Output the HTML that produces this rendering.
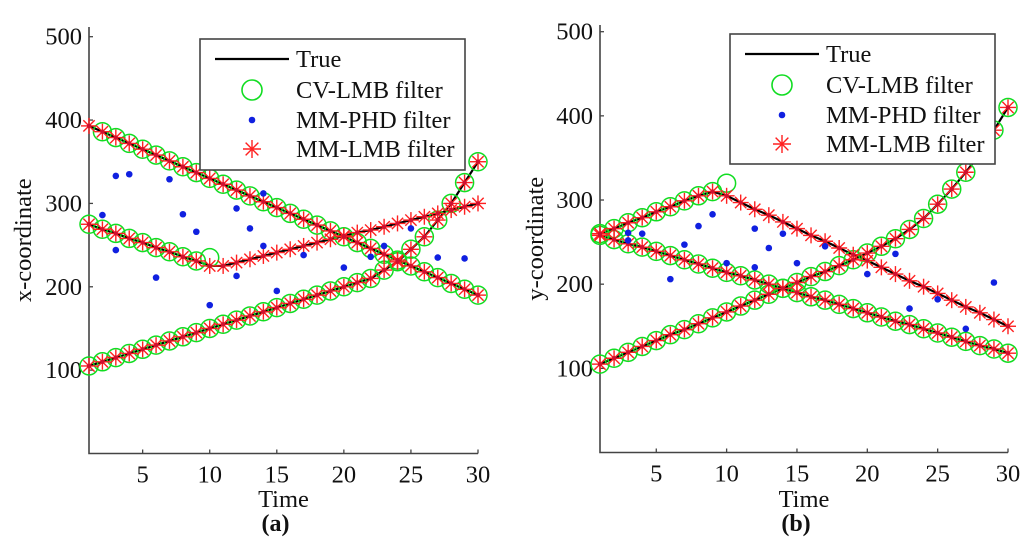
<!DOCTYPE html>
<html><head><meta charset="utf-8"><style>
html,body{margin:0;padding:0;background:#fff;}
svg{display:block;font-family:"Liberation Serif",serif;}
</style></head><body>
<svg id="fig" width="1024" height="542" viewBox="0 0 1024 542"></svg>
<script>
// ---- shared data ----
const times = Array.from({length:30},(_,i)=>i+1);
const xTicks = [5,10,15,20,25,30];
const yTicks = [100,200,300,400,500];
// panel (a) x-coordinate tracks
const aTrack1 = [393,386,379,372,365,358,351,344,337,330,323,316,309,302,295,288,281,274,267,260,253,246,239,232,225,218,211,204,197,190];
const aTrack2 = [275,269,264,258,253,247,242,236,231,225,225,229,233,237,241,245,249,253,257,261,265,268,272,276,280,284,288,292,296,300];
const aTrack3 = [105,110,115,120,125,130,135,140,145,150,155,160,165,170,175,180,185,190,195,200,205,210,220,230,245,260,280,300,325,350];
const aCvTrack2 = [275,269,264,258,253,247,242,236,231,235];
const aPhdT = [2,3,3,4,6,7,8,9,10,12,12,13,14,14,15,17,20,22,23,25,27,29];
const aPhdV = [286,333,244,335,211,329,287,266,178,294,213,270,312,249,195,238,223,236,249,270,235,234];
// panel (b) y-coordinate tracks
const bTrack1 = [260,266,273,279,286,292,299,305,310,305,297,289,282,274,266,258,251,243,235,228,220,212,204,197,189,181,173,166,158,150];
const bTrack2 = [258,253,248,244,239,234,229,224,219,214,210,205,200,195,190,185,181,176,171,166,161,156,152,147,142,137,132,127,123,118];
const bTrack3 = [105,112,119,126,133,140,146,153,160,167,174,181,188,195,202,209,215,222,229,237,245,254,265,278,295,313,333,355,383,410];
const bCvTrack1 = [260,266,273,279,286,292,299,305,310,320];
const bPhdT = [3,3,4,6,7,8,9,10,12,12,13,14,15,17,20,22,23,25,27,29];
const bPhdV = [261,252,260,206,247,269,283,225,266,220,243,260,225,245,212,236,171,182,147,202];

const NS="http://www.w3.org/2000/svg";
const svg=document.getElementById('fig');
function mk(tag,attrs,parent){const e=document.createElementNS(NS,tag);for(const k in attrs)e.setAttribute(k,attrs[k]);(parent||svg).appendChild(e);return e;}

function star(g,cx,cy,r){
  for(let k=0;k<4;k++){const a=k*Math.PI/4;
    const l=mk('line',{x1:cx-r*Math.cos(a),y1:cy-r*Math.sin(a),x2:cx+r*Math.cos(a),y2:cy+r*Math.sin(a),stroke:'#ff2020','stroke-width':1.4},g);
    
    }
}

function panel(P){
  const X=t=>P.x0+(t-1)*(P.x1-P.x0)/29;
  const Y=v=>P.yb-v*(P.yb-P.y500)/500;
  const g=mk('g',{});
  
  
  const ax=mk('path',{d:`M${P.x0},${P.ytop} L${P.x0},${P.yb} L${P.x1},${P.yb}`,fill:'none',stroke:'#444','stroke-width':1.6},g);
  
  
  xTicks.forEach(t=>{
    const tk=mk('line',{x1:X(t),y1:P.yb,x2:X(t),y2:P.yb-4,stroke:'#444','stroke-width':1.3},g);
    
    
    const tl=mk('text',{x:X(t),y:P.yb+29,'text-anchor':'middle','font-size':24.5,fill:'#111'},g);
    tl.textContent=t;
    
    
  });
  yTicks.forEach(v=>{
    const tk=mk('line',{x1:P.x0,y1:Y(v),x2:P.x0+4,y2:Y(v),stroke:'#444','stroke-width':1.3},g);
    
    
    const tl=mk('text',{x:P.x0-7,y:Y(v)+8,'text-anchor':'end','font-size':24.5,fill:'#111'},g);
    tl.textContent=v;
    
    
  });
  const xt=mk('text',{x:(P.x0+P.x1)/2,y:507,'text-anchor':'middle','font-size':24.5,fill:'#111'},g);
  xt.textContent='Time';
  
  
  const yt=mk('text',{x:0,y:0,'text-anchor':'middle','font-size':24.5,fill:'#111',transform:`translate(${P.ytx},${(P.ytop+P.yb)/2}) rotate(-90)`},g);
  yt.textContent=P.ylabel;
  
  
  const pl=mk('text',{x:(P.x0+P.x1)/2-8,y:531,'text-anchor':'middle','font-size':24,'font-weight':'bold',fill:'#111'},g);
  pl.textContent=P.tag;
  
  
  P.tracks.forEach((tr,i)=>{
    const d=tr.map((v,j)=>(j?'L':'M')+X(times[j])+','+Y(v)).join(' ');
    const p=mk('path',{d,fill:'none',stroke:'#000','stroke-width':2.2},g);
    
    
  });
  P.cv.forEach((tr,i)=>{tr.forEach((v,j)=>{
    if(P.skipCv && P.skipCv(i,j)) return;
    const c=mk('circle',{cx:X(times[j]),cy:Y(v),r:9,fill:'none',stroke:'#11dd22','stroke-width':1.5},g);
    
    
  });});
  P.tracks.forEach(tr=>tr.forEach((v,j)=>star(g,X(times[j]),Y(v),8)));
  P.tracks.forEach(tr=>tr.forEach((v,j)=>{
    const c=mk('circle',{cx:X(times[j]),cy:Y(v),r:2.2,fill:'#d01030'},g);
    
    
  }));
  P.phdT.forEach((t,k)=>{
    const c=mk('circle',{cx:X(t),cy:Y(P.phdV[k]),r:3.3,fill:'#1020e0'},g);
    
    
  });
  const L=P.leg;
  const lg=mk('g',{},g);
  
  
  mk('rect',{x:L.x,y:L.y,width:L.w,height:L.h,fill:'#fff',stroke:'#444','stroke-width':1.6},lg);
  const rows=[20,51,81,110];
  const labels=['True','CV-LMB filter','MM-PHD filter','MM-LMB filter'];
  const mx=L.x+52;
  mk('line',{x1:L.x+15,y1:L.y+rows[0],x2:L.x+89,y2:L.y+rows[0],stroke:'#000','stroke-width':2.2},lg);
  mk('circle',{cx:mx,cy:L.y+rows[1],r:10,fill:'none',stroke:'#11dd22','stroke-width':1.6},lg);
  mk('circle',{cx:mx,cy:L.y+rows[2],r:3.3,fill:'#1020e0'},lg);
  star(lg,mx,L.y+rows[3],9);
  labels.forEach((s,i)=>{
    const t=mk('text',{x:L.x+96,y:L.y+rows[i]+8,'font-size':24.5,fill:'#111'},lg);
    t.textContent=s;
    
    
  });
}

panel({name:'panel-a',x0:89,x1:478,yb:453.5,y500:36.7,ytop:27,ytx:31,ylabel:'x-coordinate',tag:'(a)',
  tracks:[aTrack1,aTrack2,aTrack3],cv:[aTrack1,aCvTrack2,aTrack3],
  skipCv:(i,j)=>i===0&&j===0,
  phdT:aPhdT,phdV:aPhdV,leg:{x:200,y:39,w:265,h:131}});
panel({name:'panel-b',x0:600,x1:1008,yb:452.5,y500:31.7,ytop:25,ytx:543,ylabel:'y-coordinate',tag:'(b)',
  tracks:[bTrack1,bTrack2,bTrack3],cv:[bCvTrack1,bTrack2,bTrack3],
  phdT:bPhdT,phdV:bPhdV,leg:{x:730,y:34,w:265,h:130}});
</script>
</body></html>
